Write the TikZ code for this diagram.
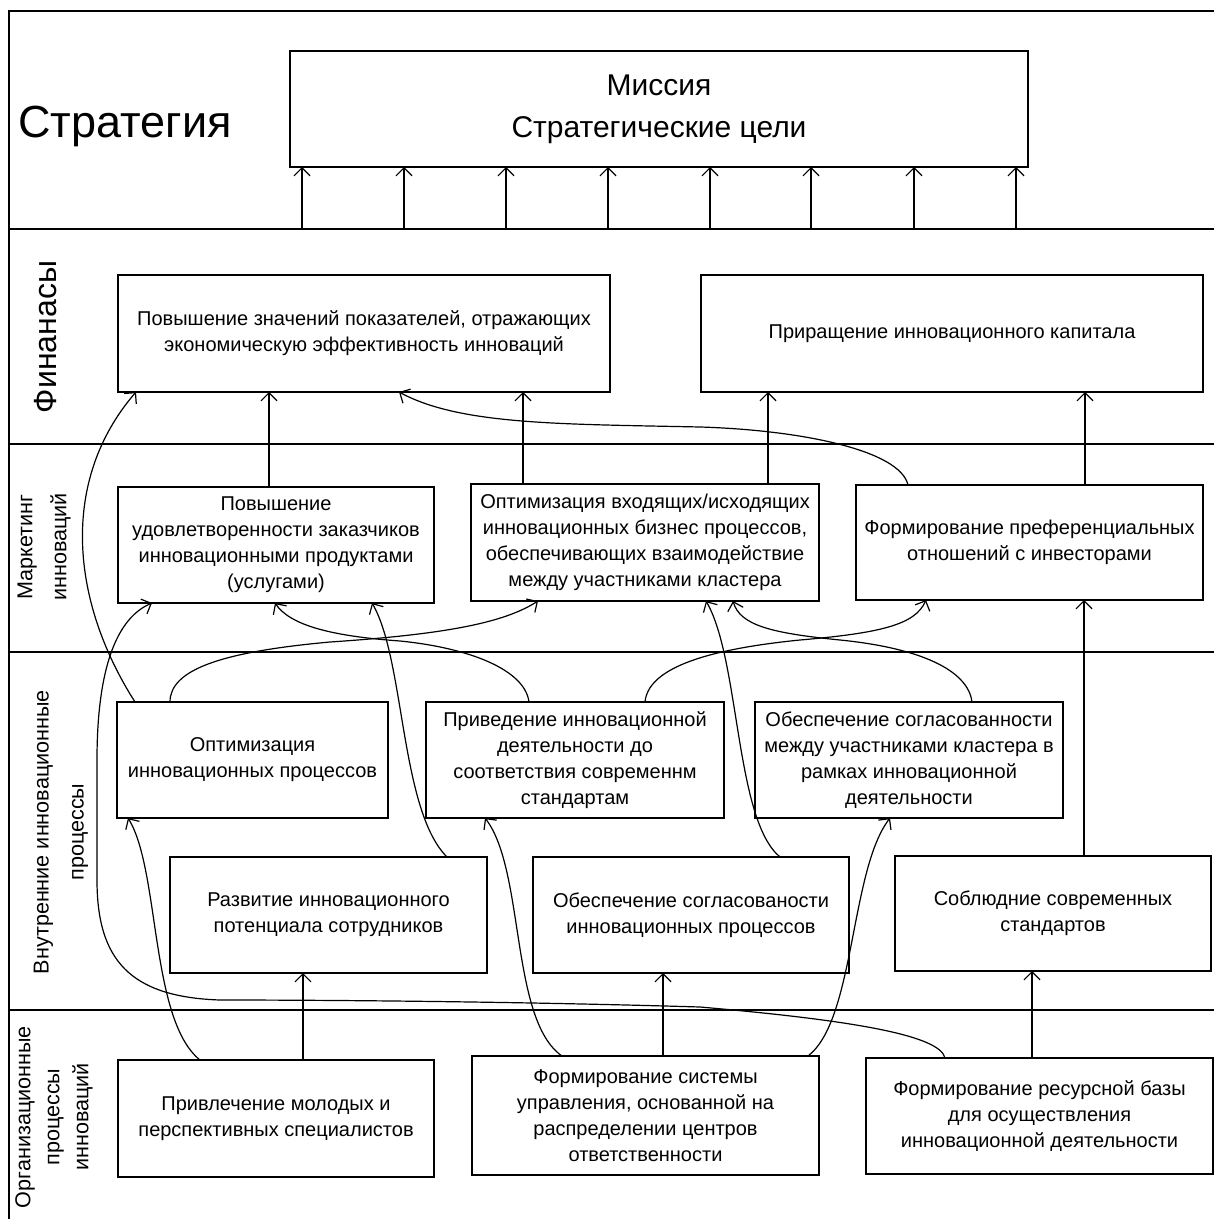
\documentclass[tikz,border=0pt]{standalone}
\usepackage{fontspec}
\setmainfont{Liberation Sans}
\usepackage{tikz}
\usetikzlibrary{arrows.meta,calc}

\begin{document}
\begin{tikzpicture}[x=0.5pt,y=-0.5pt,
  box/.style={draw,line width=0.8pt,inner sep=0pt,outer sep=0pt,align=center,
    font=\fontsize{10}{13}\selectfont},
  lane/.style={line width=0.8pt},
  arr/.style={line width=0.6pt,-{Straight Barb[length=4pt,width=8pt]}},
  tag/.style={rotate=90,align=center}]

  \useasboundingbox (0,0) rectangle (1214,1219);

  % frame and lanes
  \draw[lane] (1214,11) -- (9,11) -- (9,1219);
  \coordinate (l1) at (9,229);
  \coordinate (l2) at (9,444);
  \coordinate (l3) at (9,652);
  \coordinate (l4) at (9,1010);
  \foreach \l in {l1,l2,l3,l4}
    \draw[lane] (\l) -- (1214,0 |- \l);

  % lane titles
  \node[font=\fontsize{22.5}{27}\selectfont] (strat) at (125,126) {Стратегия};
  \node[tag,font=\fontsize{16}{19}\selectfont] (finlab) at (46,337) {Финанасы};
  \node[tag,font=\fontsize{10.8}{17}\selectfont] (mktlab) at (44,547)
    {Маркетинг\\инноваций};
  \node[tag,font=\fontsize{10.8}{17.5}\selectfont] (proclab) at (61,832)
    {Внутренние инновационные\\процессы};
  \node[tag,font=\fontsize{10.8}{14.5}\selectfont] (orglab) at (54,1117)
    {Организационные\\процессы\\инноваций};

  % strategy
  \node[box,minimum width=369pt,minimum height=58pt,font=\fontsize{15}{21}\selectfont]
    (mission) at (659,109) {Миссия\\Стратегические цели};

  % finance
  \node[box,minimum width=246pt,minimum height=58.5pt] (fin1) at (364,333.5)
    {Повышение значений показателей, отражающих\\экономическую эффективность инноваций};
  \node[box,minimum width=251pt,minimum height=58.5pt] (fin2) at (952,333.5)
    {Приращение инновационного капитала};

  % marketing
  \node[box,minimum width=158pt,minimum height=58pt] (mkt1) at (276,545)
    {Повышение\\удовлетворенности заказчиков\\инновационными продуктами\\(услугами)};
  \node[box,minimum width=174pt,minimum height=58.5pt] (mkt2) at (645,542.5)
    {Оптимизация входящих/исходящих\\инновационных бизнес процессов,\\обеспечивающих взаимодействие\\между участниками кластера};
  \node[box,minimum width=173.5pt,minimum height=57.5pt] (mkt3) at (1029.5,542.5)
    {Формирование преференциальных\\отношений с инвесторами};

  % internal processes
  \node[box,minimum width=135.5pt,minimum height=58pt] (proc1) at (252.5,760)
    {Оптимизация\\инновационных процессов};
  \node[box,minimum width=149pt,minimum height=58pt] (proc2) at (575,760)
    {Приведение инновационной\\деятельности до\\соответствия современнм\\стандартам};
  \node[box,minimum width=154pt,minimum height=58pt] (proc3) at (909,760)
    {Обеспечение согласованности\\между участниками кластера в\\рамках инновационной\\деятельности};
  \node[box,minimum width=158.5pt,minimum height=58pt] (proc4) at (328.5,915)
    {Развитие инновационного\\потенциала сотрудников};
  \node[box,minimum width=158pt,minimum height=58pt] (proc5) at (691,915)
    {Обеспечение согласованости\\инновационных процессов};
  \node[box,minimum width=158pt,minimum height=57.5pt] (proc6) at (1053,913.5)
    {Соблюдние современных\\стандартов};

  % organisational processes
  \node[box,minimum width=158pt,minimum height=58.5pt] (org1) at (276,1118.5)
    {Привлечение молодых и\\перспективных специалистов};
  \node[box,minimum width=173.5pt,minimum height=59.5pt] (org2) at (645.5,1115.5)
    {Формирование системы\\управления, основанной на\\распределении центров\\ответственности};
  \node[box,minimum width=173.5pt,minimum height=58pt] (org3) at (1039.5,1116)
    {Формирование ресурсной базы\\для осуществления\\инновационной деятельности};

  % arrows into the mission
  \foreach \x in {302,404,506,608,710,811,914,1016}
    \draw[arr] (\x,0 |- l1) -- (\x,0 |- mission.south);

  % straight links
  \foreach \x/\a/\b in {269/mkt1/fin1,523/mkt2/fin1,768/mkt2/fin2,1085/mkt3/fin2,
                        1084/proc6/mkt3,303/org1/proc4,663/org2/proc5,1032/org3/proc6}
    \draw[arr] (\x,0 |- \a.north) -- (\x,0 |- \b.south);

  % curved links
  \draw[arr] (135,0 |- proc1.north) .. controls (70,600) and (60,480) .. (136,0 |- fin1.south);
  \draw[arr] (908,0 |- mkt3.north) .. controls (900,450) and (800,430) .. (700,427)
    .. controls (560,424) and (460,425) .. (399,0 |- fin1.south);
  \draw[arr] (170,0 |- proc1.north) .. controls (170,670) and (220,652) .. (330,642)
    .. controls (450,634) and (505,622) .. (538,0 |- mkt2.south);
  \draw[arr] (529,0 |- proc2.north) .. controls (525,670) and (470,648) .. (400,641)
    .. controls (330,636) and (290,625) .. (275,0 |- mkt1.south);
  \draw[arr] (645,0 |- proc2.north) .. controls (648,670) and (700,650) .. (800,640)
    .. controls (880,633) and (915,625) .. (926,0 |- mkt3.south);
  \draw[arr] (972,0 |- proc3.north) .. controls (968,670) and (920,648) .. (840,640)
    .. controls (770,633) and (740,625) .. (733,0 |- mkt2.south);
  \draw[arr] (447,0 |- proc4.north) .. controls (400,810) and (405,660) .. (372,0 |- mkt1.south);
  \draw[arr] (780,0 |- proc5.north) .. controls (735,820) and (740,660) .. (706,0 |- mkt2.south);
  \draw[arr] (200,0 |- org1.north) .. controls (150,1020) and (160,870) .. (128,0 |- proc1.south);
  \draw[arr] (562,0 |- org2.north) .. controls (510,1020) and (525,870) .. (485,0 |- proc2.south);
  \draw[arr] (808,0 |- org2.north) .. controls (855,1020) and (850,870) .. (890,0 |- proc3.south);
  \draw[arr] (945,0 |- org3.north) .. controls (940,1035) and (850,1020) .. (700,1007)
    .. controls (500,1001) and (300,1000) .. (220,1000)
    .. controls (130,997) and (97,960) .. (97,880) -- (97,760)
    .. controls (97,680) and (112,620) .. (152,0 |- mkt1.south);

\end{tikzpicture}
\end{document}
